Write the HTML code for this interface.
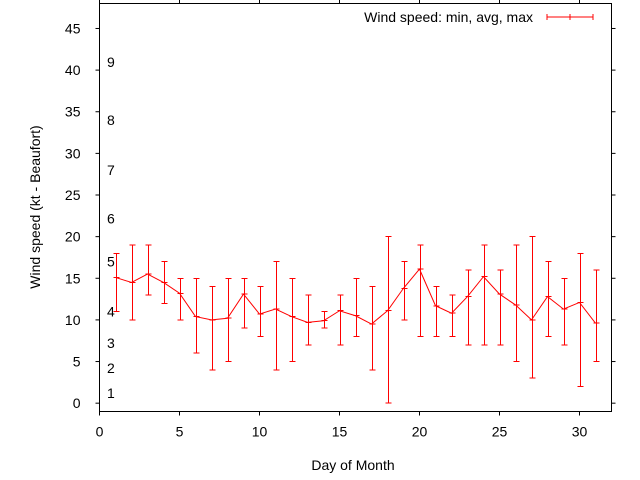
<!DOCTYPE html>
<html><head><meta charset="utf-8"><style>
body{margin:0;background:#fff;}
svg{display:block;font-family:"Liberation Sans",sans-serif;}
</style></head><body>
<svg id="chart" width="640" height="480" viewBox="0 0 640 480" xmlns="http://www.w3.org/2000/svg">
<rect width="640" height="480" fill="#fff"/>
<g id="axes"></g>
<g id="series" shape-rendering="crispEdges"></g>
<text transform="translate(40,207) rotate(-90)" text-anchor="middle" font-size="14">Wind speed (kt - Beaufort)</text>
<text x="353" y="470" text-anchor="middle" font-size="14">Day of Month</text>
<g shape-rendering="crispEdges">
<text x="533" y="22" text-anchor="end" font-size="14">Wind speed: min, avg, max</text>
<line x1="547" y1="17" x2="593" y2="17" stroke="#f00"/>
<line x1="547" y1="14" x2="547" y2="20" stroke="#f00"/>
<line x1="593" y1="14" x2="593" y2="20" stroke="#f00"/>
<line x1="570" y1="14" x2="570" y2="20" stroke="#f00"/>
</g>
</svg>
<script>
const days=[1,2,3,4,5,6,7,8,9,10,11,12,13,14,15,16,17,18,19,20,21,22,23,24,25,26,27,28,29,30,31];
const avgSpeed=[15.1,14.5,15.5,14.5,13.2,10.4,10,10.2,13.1,10.7,11.3,10.4,9.7,9.9,11.1,10.5,9.5,11.1,13.8,16.1,11.7,10.8,12.8,15.2,13.1,11.8,10,12.8,11.3,12.1,9.6];
const minSpeed=[11,10,13,12,10,6,4,5,9,8,4,5,7,9,7,8,4,0,10,8,8,8,7,7,7,5,3,8,7,2,5];
const maxSpeed=[18,19,19,17,15,15,14,15,15,14,17,15,13,11,13,15,14,20,17,19,14,13,16,19,16,19,20,17,15,18,16];
const xTicks=[0,5,10,15,20,25,30];
const yTicks=[0,5,10,15,20,25,30,35,40,45];
const beaufortLabels=["1","2","3","4","5","6","7","8","9"];
const beaufortValues=[1.2,4.2,7.2,11,17,22.2,28,34,41];
const L=99.5,R=611.5,T=3.5,B=411.5,XMIN=0,XMAX=32,YMIN=-1,YMAX=48;
const sx=v=>L+(v-XMIN)/(XMAX-XMIN)*(R-L);
const sy=v=>B-(v-YMIN)/(YMAX-YMIN)*(B-T);
const NS="http://www.w3.org/2000/svg";
function mk(parent,tag,attrs){const e=document.createElementNS(NS,tag);for(const k in attrs)e.setAttribute(k,attrs[k]);parent.appendChild(e);return e;}
const ax=document.getElementById('axes'),se=document.getElementById('series');
let f=mk(ax,'rect',{x:L,y:T,width:R-L,height:B-T,fill:'none',stroke:'#000'});


xTicks.forEach(t=>{const x=sx(t);
 mk(ax,'line',{x1:x,y1:B,x2:x,y2:B+4,stroke:'#000'});
 mk(ax,'line',{x1:x,y1:T,x2:x,y2:T-4,stroke:'#000'});
 const tx=mk(ax,'text',{x:x,y:B+25,'text-anchor':'middle','font-size':14});tx.textContent=t;
 
 
});
yTicks.forEach(t=>{const y=sy(t);
 mk(ax,'line',{x1:L,y1:y,x2:L-4,y2:y,stroke:'#000'});
 mk(ax,'line',{x1:R,y1:y,x2:R+4,y2:y,stroke:'#000'});
 const tx=mk(ax,'text',{x:L-19,y:y+5,'text-anchor':'end','font-size':14});tx.textContent=t;
 
 
});
beaufortLabels.forEach((lb,i)=>{const tx=mk(ax,'text',{x:107,y:sy(beaufortValues[i])+5,'font-size':14});tx.textContent=lb;
 
 
});
days.forEach((d,i)=>{const x=Math.round(sx(d))+0.5;
 const g=mk(se,'g',{stroke:'#f00'});
 
 
 mk(g,'line',{x1:x,y1:sy(minSpeed[i]),x2:x,y2:sy(maxSpeed[i])});
 mk(g,'line',{x1:x-3,y1:sy(minSpeed[i]),x2:x+3,y2:sy(minSpeed[i])});
 mk(g,'line',{x1:x-3,y1:sy(maxSpeed[i]),x2:x+3,y2:sy(maxSpeed[i])});
 mk(g,'line',{x1:x-3,y1:sy(avgSpeed[i]),x2:x+3,y2:sy(avgSpeed[i])});
});
const pl=mk(document.getElementById('chart'),'polyline',{points:days.map((d,i)=>sx(d)+','+sy(avgSpeed[i])).join(' '),fill:'none',stroke:'#f00'});


</script>
</body></html>
